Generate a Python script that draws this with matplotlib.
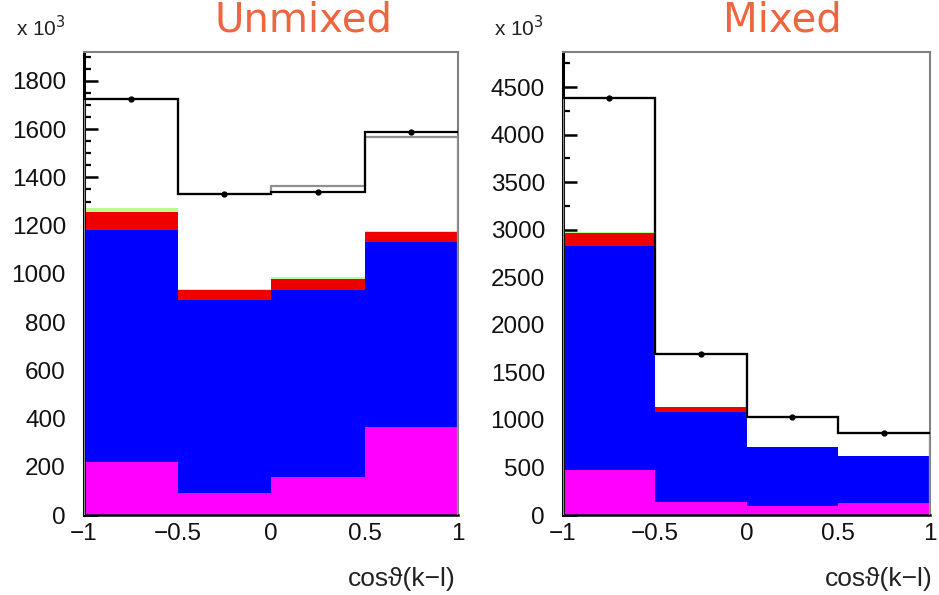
import numpy as np
import matplotlib
matplotlib.use("Agg")
import matplotlib.pyplot as plt
from matplotlib.ticker import MultipleLocator, AutoMinorLocator

plt.rcParams['font.family'] = ['Liberation Sans', 'DejaVu Sans']

# bins in cos(theta) between kaon and lepton
edges = [-1.0, -0.5, 0.0, 0.5, 1.0]

# unmixed sample (x 10^3 events)
unmix_magenta = [220, 91, 158, 365]
unmix_blue = [962, 801, 775, 767]
unmix_red = [75, 41, 46, 42]
unmix_green = [16, 6, 6, 5]
unmix_mc = [1725, 1331, 1365, 1569]
unmix_data = [1725, 1331, 1340, 1589]
unmix_err = [8, 8, 8, 8]

# mixed sample (x 10^3 events)
mix_magenta = [473, 137, 95, 126]
mix_blue = [2356, 946, 620, 494]
mix_red = [136, 53, 4, 3]
mix_green = [12, 5, 0, 0]
mix_mc = [4385, 1693, 1031, 862]
mix_data = [4385, 1693, 1031, 862]
mix_err = [15, 15, 15, 15]

stack_colors = ['#ff00ff', '#0000ff', '#ee0000', '#b8ff90']

fig = plt.figure(figsize=(9.39, 5.95), dpi=100)
ax1 = fig.add_axes([84 / 939, 80 / 595, 374 / 939, 463 / 595])
ax2 = fig.add_axes([563 / 939, 80 / 595, 367 / 939, 463 / 595])


def draw_panel(ax, comps, mc, data, err, ymax, major, nminor):
    # MC total, white fill under the gray outline
    ax.stairs(mc, edges, baseline=0, fill=True, color='white', zorder=1)
    bottom = np.zeros(4)
    for vals, col in zip(comps, stack_colors):
        top = bottom + np.array(vals)
        ax.stairs(top, edges, baseline=bottom, fill=True, color=col,
                  linewidth=0, zorder=2)
        bottom = top
    ax.stairs(mc, edges, baseline=0, color='#909090', linewidth=1.6, zorder=3)
    ax.stairs(data, edges, baseline=None, color='black', linewidth=1.6, zorder=4)
    centers = 0.5 * (np.array(edges[:-1]) + np.array(edges[1:]))
    ax.errorbar(centers, data, yerr=err, fmt='o', color='black',
                markersize=3.5, elinewidth=1.5, capsize=0, zorder=5)

    ax.set_xlim(-1, 1)
    ax.set_ylim(0, ymax)
    ax.xaxis.set_major_locator(MultipleLocator(0.5))
    ax.xaxis.set_minor_locator(MultipleLocator(0.1))
    ax.yaxis.set_major_locator(MultipleLocator(major))
    ax.yaxis.set_minor_locator(AutoMinorLocator(nminor))
    ax.set_xticks([-1, -0.5, 0, 0.5, 1])
    ax.set_xticklabels(['\u22121', '\u22120.5', '0', '0.5', '1'])
    ax.tick_params(axis='both', which='both', direction='in', color='black',
                   top=False, right=False)
    ax.tick_params(axis='y', which='major', length=10, width=1.8, pad=13,
                   labelsize=17.5)
    ax.tick_params(axis='y', which='minor', length=5, width=1.6)
    ax.tick_params(axis='x', which='major', length=9, width=1.2, pad=6,
                   labelsize=17.5)
    ax.tick_params(axis='x', which='minor', length=4.5, width=1.0)
    ax.spines['left'].set_color('black')
    ax.spines['left'].set_linewidth(2.2)
    ax.spines['bottom'].set_color('black')
    ax.spines['bottom'].set_linewidth(1.8)
    for s in ('top', 'right'):
        ax.spines[s].set_color('#808080')
        ax.spines[s].set_linewidth(1.5)
    for lab in ax.get_yticklabels() + ax.get_xticklabels():
        lab.set_color('#111111')


draw_panel(ax1, [unmix_magenta, unmix_blue, unmix_red, unmix_green],
           unmix_mc, unmix_data, unmix_err, 1920, 200, 4)
draw_panel(ax2, [mix_magenta, mix_blue, mix_red, mix_green],
           mix_mc, mix_data, mix_err, 4870, 500, 2)

# titles and axis annotations
fig.text(304 / 939, 1 - 32 / 595, 'Unmixed', color='#ee6640', fontsize=29,
         family='DejaVu Sans', ha='center', va='baseline')
fig.text(782 / 939, 1 - 32 / 595, 'Mixed', color='#ee6640', fontsize=29,
         family='DejaVu Sans', ha='center', va='baseline')
fig.text(16 / 939, 1 - 36 / 595, r'x 10$^3$', fontsize=15, ha='left',
         va='baseline', color='#222222')
fig.text(494 / 939, 1 - 36 / 595, r'x 10$^3$', fontsize=15, ha='left',
         va='baseline', color='#222222')
fig.text(456 / 939, 1 - 586 / 595, 'cos\u03d1(k\u2212l)', fontsize=19,
         ha='right', va='baseline', color='#222222')
fig.text(933 / 939, 1 - 586 / 595, 'cos\u03d1(k\u2212l)', fontsize=19,
         ha='right', va='baseline', color='#222222')

fig.savefig('out.png', dpi=100)
